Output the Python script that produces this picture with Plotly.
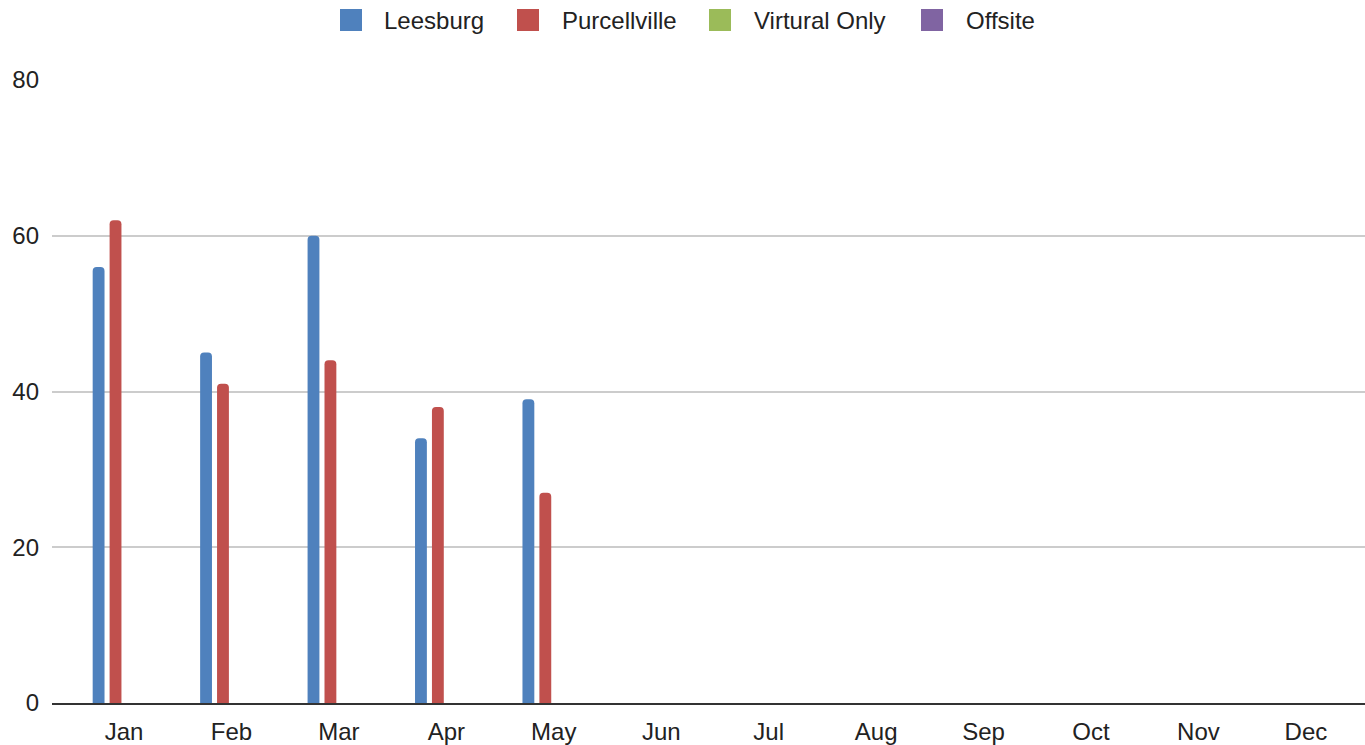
import plotly.graph_objects as go

months = ["Jan", "Feb", "Mar", "Apr", "May", "Jun", "Jul", "Aug", "Sep", "Oct", "Nov", "Dec"]
leesburg = [56, 45, 60, 34, 39, None, None, None, None, None, None, None]
purcellville = [62, 41, 44, 38, 27, None, None, None, None, None, None, None]
virtual_only = [None] * 12
offsite = [None] * 12

series_names = ["Leesburg", "Purcellville", "Virtural Only", "Offsite"]
series_values = [leesburg, purcellville, virtual_only, offsite]
series_colors = ["#4f81bd", "#c0504d", "#9bbb59", "#8064a2"]

W, H = 1365, 745
ML, MR, MT, MB = 52, 0, 80, 42
PW, PH = W - ML - MR, H - MT - MB

def px_x(p):
    return (p - ML) / PW

def px_y(p):
    return (H - MB - p) / PH

fig = go.Figure()
for name, vals, color in zip(series_names, series_values, series_colors):
    fig.add_trace(go.Bar(x=months, y=vals, name=name,
                         marker=dict(color=color, cornerradius=4, line=dict(width=0))))

# manual legend (large rounded squares like the reference)
legend_square_left = [340, 517, 709, 921]
legend_text_left = [382, 560, 752, 964]
for name, color, sx, tx in zip(series_names, series_colors, legend_square_left, legend_text_left):
    fig.add_shape(type="rect", xref="paper", yref="paper",
                  x0=px_x(sx), x1=px_x(sx + 22), y0=px_y(31), y1=px_y(9),
                  fillcolor=color, line=dict(width=0), layer="above")
    fig.add_annotation(text=name, xref="paper", yref="paper", x=px_x(tx), y=px_y(20),
                       xanchor="left", yanchor="middle", showarrow=False,
                       font=dict(size=24, color="#222222"))

fig.update_layout(
    width=W, height=H,
    margin=dict(l=ML, r=MR, t=MT, b=MB, autoexpand=False),
    paper_bgcolor="white", plot_bgcolor="white",
    font=dict(family="Liberation Sans, Arial, sans-serif", size=24, color="#222222"),
    barmode="group", bargap=0.37, bargroupgap=0.3,
    showlegend=False,
)
fig.update_xaxes(range=[-0.67, 11.55], showgrid=False, showline=True, linecolor="#333333", linewidth=2,
                 ticks="", ticklabelstandoff=6, automargin=False)
fig.update_yaxes(range=[0, 80], tickvals=[0, 20, 40, 60, 80], showgrid=True, gridcolor="#cccccc", gridwidth=2,
                 zeroline=False, ticks="", ticklabelstandoff=12, showline=False, automargin=False)

fig.write_html("out.html", config={"displayModeBar": False},
               post_script="document.body.style.margin='0';document.body.style.overflow='hidden';")
